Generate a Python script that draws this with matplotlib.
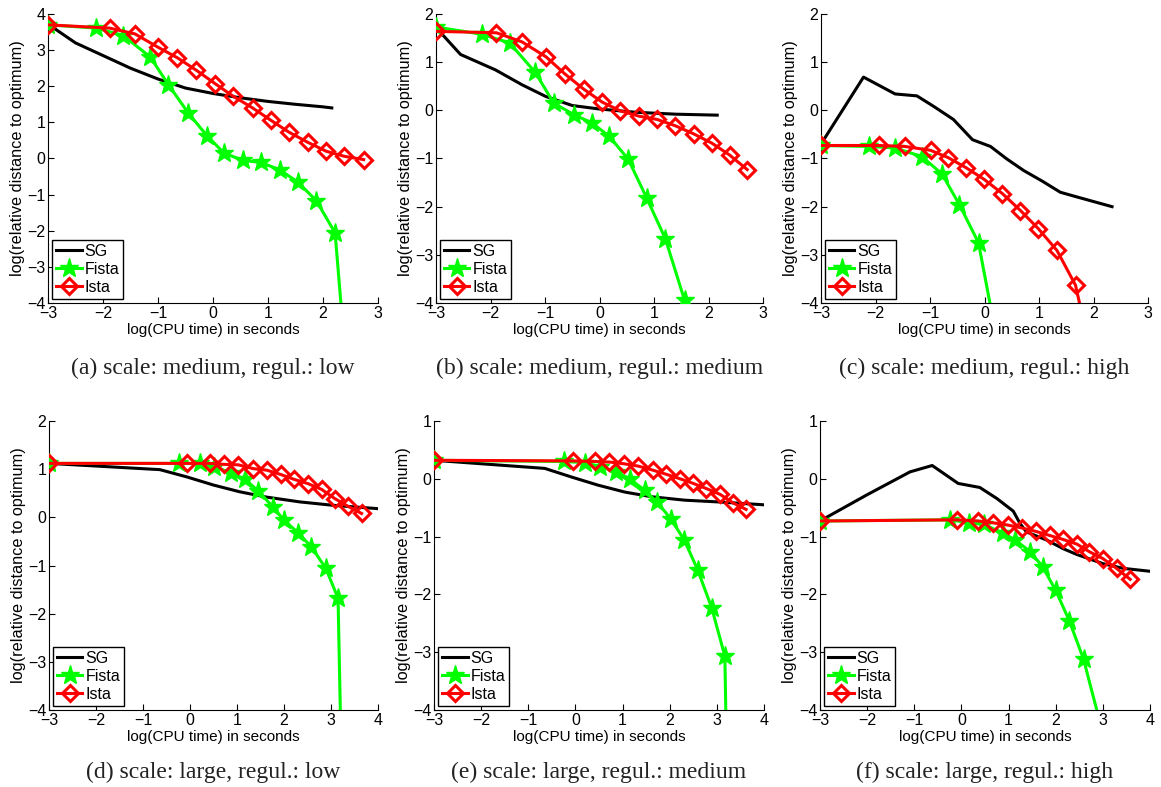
import matplotlib
matplotlib.use("Agg")
import matplotlib.pyplot as plt

# ---------------- data ----------------
captions = ["(a) scale: medium, regul.: low", "(b) scale: medium, regul.: medium",
            "(c) scale: medium, regul.: high", "(d) scale: large, regul.: low",
            "(e) scale: large, regul.: medium", "(f) scale: large, regul.: high"]

# panel a
a_sg_x = [-3, -2.5, -2, -1.5, -1, -0.5, 0, 0.5, 1, 1.5, 2, 2.16]
a_sg_y = [3.72, 3.2, 2.85, 2.5, 2.2, 1.95, 1.8, 1.68, 1.58, 1.5, 1.43, 1.40]
a_fi_x = [-3, -2.12, -1.63, -1.14, -0.81, -0.45, -0.11, 0.20, 0.54, 0.87, 1.21, 1.54, 1.88, 2.22, 2.45]
a_fi_y = [3.70, 3.61, 3.40, 2.81, 2.04, 1.26, 0.63, 0.15, -0.05, -0.11, -0.31, -0.65, -1.17, -2.06, -6.3]
a_is_x = [-3, -1.88, -1.42, -1.00, -0.65, -0.30, 0.04, 0.37, 0.72, 1.05, 1.38, 1.72, 2.06, 2.39, 2.74]
a_is_y = [3.70, 3.61, 3.45, 3.08, 2.79, 2.44, 2.07, 1.72, 1.40, 1.06, 0.73, 0.45, 0.20, 0.06, -0.03]

# panel b
b_sg_x = [-3, -2.55, -1.91, -1.42, -0.99, -0.50, -0.02, 0.66, 1.4, 2.16]
b_sg_y = [1.72, 1.16, 0.84, 0.53, 0.29, 0.10, 0.03, -0.04, -0.08, -0.10]
b_fi_x = [-3, -2.16, -1.65, -1.18, -0.84, -0.47, -0.14, 0.18, 0.53, 0.87, 1.21, 1.56]
b_fi_y = [1.73, 1.58, 1.40, 0.79, 0.15, -0.09, -0.26, -0.54, -1.02, -1.83, -2.67, -3.94]
b_is_x = [-3, -1.89, -1.42, -0.98, -0.64, -0.29, 0.05, 0.38, 0.72, 1.06, 1.39, 1.73, 2.06, 2.39, 2.71]
b_is_y = [1.64, 1.61, 1.42, 1.11, 0.76, 0.44, 0.17, -0.01, -0.12, -0.19, -0.32, -0.49, -0.68, -0.93, -1.23]

# panel c
c_sg_x = [-3, -2.22, -1.64, -1.24, -0.93, -0.57, -0.22, 0.11, 0.41, 0.72, 1.06, 1.39, 1.67, 2.34]
c_sg_y = [-0.70, 0.69, 0.34, 0.30, 0.08, -0.19, -0.61, -0.75, -1.01, -1.25, -1.47, -1.70, -1.79, -2.00]
c_fi_x = [-3, -2.12, -1.64, -1.15, -0.78, -0.46, -0.11, 0.25]
c_fi_y = [-0.73, -0.75, -0.78, -0.96, -1.32, -1.96, -2.75, -4.9]
c_is_x = [-3, -1.94, -1.46, -0.99, -0.67, -0.34, -0.01, 0.33, 0.66, 0.99, 1.33, 1.67, 2.0]
c_is_y = [-0.73, -0.73, -0.75, -0.83, -0.98, -1.19, -1.43, -1.73, -2.08, -2.46, -2.91, -3.63, -5.3]

# panel d
d_sg_x = [-3, -0.64, -0.07, 0.50, 1.06, 1.63, 2.34, 3.04, 4.0]
d_sg_y = [1.12, 0.99, 0.84, 0.67, 0.53, 0.42, 0.32, 0.25, 0.18]
d_fi_x = [-3, -0.23, 0.22, 0.52, 0.88, 1.17, 1.45, 1.76, 2.00, 2.30, 2.58, 2.89, 3.15, 3.25]
d_fi_y = [1.12, 1.12, 1.12, 1.05, 0.92, 0.79, 0.55, 0.22, -0.06, -0.32, -0.61, -1.06, -1.68, -6.5]
d_is_x = [-3, -0.07, 0.43, 0.72, 1.03, 1.35, 1.63, 1.93, 2.21, 2.51, 2.80, 3.08, 3.36, 3.65]
d_is_y = [1.12, 1.12, 1.12, 1.10, 1.09, 1.01, 0.98, 0.89, 0.79, 0.70, 0.58, 0.39, 0.23, 0.08]

# panel e
e_sg_x = [-3, -0.65, -0.08, 0.48, 1.05, 1.61, 2.32, 3.03, 4.0]
e_sg_y = [0.32, 0.18, 0.03, -0.11, -0.23, -0.31, -0.37, -0.40, -0.45]
e_fi_x = [-3, -0.25, 0.20, 0.52, 0.87, 1.15, 1.47, 1.74, 2.02, 2.31, 2.59, 2.89, 3.17, 3.21]
e_fi_y = [0.32, 0.30, 0.28, 0.21, 0.12, 0.00, -0.20, -0.41, -0.69, -1.06, -1.57, -2.23, -3.07, -5.0]
e_is_x = [-3, -0.05, 0.41, 0.72, 1.03, 1.33, 1.64, 1.92, 2.22, 2.50, 2.78, 3.07, 3.35, 3.62]
e_is_y = [0.32, 0.31, 0.30, 0.29, 0.26, 0.22, 0.15, 0.08, 0.00, -0.08, -0.17, -0.27, -0.42, -0.53]

# panel f
f_sg_x = [-3, -2.01, -1.09, -0.62, -0.07, 0.39, 0.75, 1.10, 1.24, 1.38, 1.81, 2.16, 2.45, 3.01, 3.44, 4.0]
f_sg_y = [-0.73, -0.28, 0.12, 0.23, -0.08, -0.15, -0.34, -0.56, -0.77, -0.92, -1.06, -1.21, -1.31, -1.47, -1.55, -1.60]
f_fi_x = [-3, -0.24, 0.15, 0.47, 0.89, 1.14, 1.46, 1.72, 2.00, 2.29, 2.59, 2.95]
f_fi_y = [-0.73, -0.71, -0.76, -0.79, -0.94, -1.06, -1.26, -1.52, -1.93, -2.46, -3.12, -4.25]
f_is_x = [-3, -0.10, 0.36, 0.66, 0.98, 1.28, 1.58, 1.87, 2.16, 2.45, 2.71, 3.00, 3.29, 3.58]
f_is_y = [-0.73, -0.71, -0.73, -0.76, -0.80, -0.85, -0.91, -0.98, -1.05, -1.13, -1.26, -1.38, -1.55, -1.74]

panels = [
    (a_sg_x, a_sg_y, a_fi_x, a_fi_y, a_is_x, a_is_y, (-3, 3), (-4, 4)),
    (b_sg_x, b_sg_y, b_fi_x, b_fi_y, b_is_x, b_is_y, (-3, 3), (-4, 2)),
    (c_sg_x, c_sg_y, c_fi_x, c_fi_y, c_is_x, c_is_y, (-3, 3), (-4, 2)),
    (d_sg_x, d_sg_y, d_fi_x, d_fi_y, d_is_x, d_is_y, (-3, 4), (-4, 2)),
    (e_sg_x, e_sg_y, e_fi_x, e_fi_y, e_is_x, e_is_y, (-3, 4), (-4, 1)),
    (f_sg_x, f_sg_y, f_fi_x, f_fi_y, f_is_x, f_is_y, (-3, 4), (-4, 1)),
]

# ---------------- layout ----------------
W, H = 1161, 787
fig = plt.figure(figsize=(W / 100, H / 100), dpi=100)
boxes = [
    (48, 378, 14, 303), (436, 763, 14, 303), (821, 1148, 14, 303),
    (49, 378, 421, 710), (434, 764, 421, 710), (820, 1150, 421, 710),
]
sans = "Liberation Sans"
serif = "Liberation Serif"

for i, (bx, p) in enumerate(zip(boxes, panels)):
    x0, x1, yt, yb = bx
    ax = fig.add_axes([x0 / W, 1 - yb / H, (x1 - x0) / W, (yb - yt) / H])
    sgx, sgy, fix, fiy, isx, isy, xl, yl = p
    ax.plot(sgx, sgy, color="black", lw=2.2, label="SG", zorder=2)
    ax.plot(fix, fiy, color="#00ff00", lw=2.2, marker="*", ms=14,
            mfc="#00ff00", mec="#00ff00", label="Fista", zorder=3)
    ax.plot(isx, isy, color="red", lw=2.2, marker="D", ms=8, mfc="none",
            mec="red", mew=2.2, label="Ista", zorder=4)
    ax.set_xlim(*xl)
    ax.set_ylim(*yl)
    ax.set_xticks(range(xl[0], xl[1] + 1))
    ax.set_yticks(range(yl[0], yl[1] + 1))
    for s in ("top", "right"):
        ax.spines[s].set_visible(False)
    ax.tick_params(direction="in", length=4, width=0.8, labelsize=11.5, pad=2)
    for lab in ax.get_xticklabels() + ax.get_yticklabels():
        lab.set_fontfamily(sans)
    ax.set_xlabel("log(CPU time) in seconds", fontsize=11, family=sans, labelpad=1.5)
    ax.set_ylabel("log(relative distance to optimum)", fontsize=11.7, family=sans, labelpad=1)
    leg = ax.legend(loc="lower left", bbox_to_anchor=(0.012, 0.014),
                    prop={"family": sans, "size": 11.5}, frameon=True, fancybox=False,
                    edgecolor="black", framealpha=1, borderpad=0.25, labelspacing=0.2,
                    handlelength=1.6, handletextpad=0.2, borderaxespad=0.0, markerscale=1.0)
    leg.get_frame().set_linewidth(1.0)
    cx = (x0 + x1) / 2 / W
    cy = 1 - (368 if i < 3 else 772) / H
    fig.text(cx, cy, captions[i], ha="center", va="center", fontsize=17,
             family=serif, color="#222222")

fig.savefig("out.png", dpi=100)
